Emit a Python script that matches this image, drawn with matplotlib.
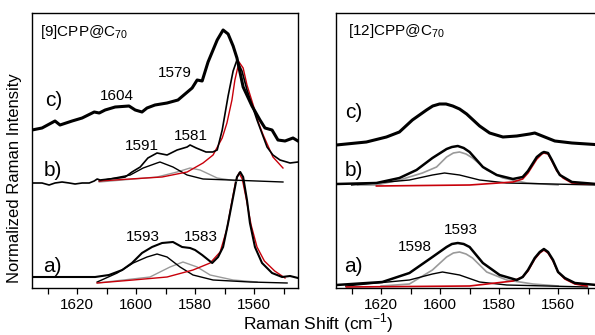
import matplotlib
matplotlib.use('Agg')
import matplotlib.pyplot as plt
from matplotlib.ticker import MultipleLocator

plt.rcParams['font.family'] = ['Liberation Sans', 'DejaVu Sans']
plt.rcParams['mathtext.fontset'] = 'custom'
plt.rcParams['mathtext.rm'] = 'Liberation Sans'

# ---- [9]CPP@C70 (left panel) ----
l_c_x = [1635.3, 1631.9, 1627.5, 1625.8, 1621.7, 1618.3, 1614.2, 1612.5, 1610.5, 1607.1, 1602.4, 1600.3,
         1598.0, 1596.3, 1593.6, 1589.5, 1585.8, 1581.0, 1579.3, 1577.6, 1575.6, 1572.5, 1570.5, 1568.8,
         1567.1, 1565.8, 1563.7, 1560.7, 1558.0, 1556.3, 1553.9, 1551.9, 1549.5, 1546.8, 1545.1]
l_c_y = [0.0, 0.2, 0.9, 0.5, 0.9, 1.2, 1.8, 1.7, 2.0, 2.3, 2.4, 2.0,
         1.8, 2.2, 2.5, 2.7, 3.0, 4.2, 5.0, 4.9, 6.8, 9.0, 10.0, 9.6,
         8.4, 7.2, 4.3, 2.4, 1.0, 0.2, 0.0, -1.0, -1.1, -0.8, -1.1]

l_b_x = [1635.3, 1631.9, 1629.5, 1627.5, 1625.1, 1622.7, 1620.7, 1618.3, 1615.9, 1614.2, 1613.2, 1612.2,
         1609.2, 1605.8, 1603.7, 1601.4, 1598.6, 1596.0, 1592.9, 1589.5, 1586.1, 1582.7, 1581.7, 1579.6,
         1576.3, 1574.0, 1572.5, 1570.8, 1568.8, 1567.1, 1565.8, 1564.1, 1562.4, 1560.7, 1559.0, 1555.6,
         1553.6, 1551.2, 1547.8, 1545.1]
l_b_y = [0.0, 0.0, -0.2, 0.0, 0.1, 0.0, -0.1, 0.0, 0.0, 0.2, 0.4, 0.3,
         0.4, 0.5, 0.6, 1.1, 1.6, 2.5, 3.0, 2.8, 3.3, 3.6, 3.8, 3.5,
         3.1, 3.1, 3.3, 5.3, 8.7, 11.2, 12.3, 11.2, 9.3, 7.8, 6.3, 3.6,
         2.8, 2.3, 2.0, 2.1]
l_b_red_x = [1612.5, 1602.0, 1591.2, 1582.7, 1577.3, 1573.9, 1570.8, 1569.2, 1567.5, 1566.5, 1565.1,
             1563.7, 1562.4, 1560.3, 1558.6, 1556.9, 1553.6, 1550.2]
l_b_red_y = [0.2, 0.4, 0.6, 1.1, 2.0, 2.8, 4.5, 6.0, 8.3, 10.3, 12.1,
             11.5, 9.8, 7.8, 6.1, 4.8, 2.6, 1.5]
l_b_fit1_x = [1612.5, 1602.0, 1597.6, 1592.9, 1591.9, 1587.5, 1582.7, 1577.3, 1568.1, 1550.2]
l_b_fit1_y = [0.2, 0.8, 1.5, 2.0, 2.1, 1.6, 0.8, 0.4, 0.3, 0.1]
l_b_fit2_x = [1612.5, 1592.9, 1586.1, 1581.7, 1578.3, 1572.5, 1565.8]
l_b_fit2_y = [0.1, 0.6, 1.1, 1.5, 1.3, 0.5, 0.2]

l_a_x = [1635.3, 1624.0, 1613.9, 1609.2, 1604.7, 1601.4, 1598.0, 1594.6, 1591.2, 1587.5, 1584.4, 1581.7,
         1580.0, 1577.6, 1574.2, 1572.2, 1570.5, 1568.8, 1567.1, 1565.8, 1564.7, 1563.7, 1562.4, 1561.4,
         1559.7, 1557.3, 1553.9, 1550.5, 1547.8, 1545.1]
l_a_y = [0.0, 0.0, 0.0, 0.2, 0.7, 1.4, 2.4, 3.0, 3.4, 3.5, 3.0, 2.9,
         2.7, 2.2, 1.4, 2.0, 3.0, 5.4, 8.0, 10.0, 10.5, 10.0, 7.7, 5.4,
         3.0, 1.4, 0.4, 0.0, 0.1, -0.1]
l_a_red_x = [1613.2, 1601.0, 1589.5, 1580.7, 1574.9, 1571.5, 1569.2, 1567.5, 1566.2, 1565.1, 1564.0,
             1562.7, 1561.0, 1559.0, 1556.5, 1553.0, 1549.5]
l_a_red_y = [-0.6, -0.3, 0.0, 0.7, 1.4, 2.5, 4.8, 7.6, 9.6, 10.4, 9.8,
             7.9, 5.2, 3.0, 1.6, 0.6, -0.1]
l_a_fit1_x = [1613.2, 1606.4, 1601.0, 1596.3, 1592.9, 1589.5, 1585.1, 1580.7, 1573.9, 1561.4, 1548.8]
l_a_fit1_y = [-0.5, 0.4, 1.4, 2.0, 2.3, 2.0, 1.0, 0.2, -0.3, -0.5, -0.6]
l_a_fit2_x = [1613.2, 1595.3, 1588.5, 1584.1, 1579.3, 1574.9, 1567.1, 1559.0]
l_a_fit2_y = [-0.6, 0.0, 1.0, 1.5, 1.0, 0.2, -0.3, -0.5]

# ---- [12]CPP@C70 (right panel) ----
r_c_x = [1635.2, 1625.0, 1618.2, 1613.8, 1609.4, 1604.6, 1602.5, 1600.2, 1598.0, 1595.7, 1593.4, 1591.0,
         1586.6, 1583.2, 1578.7, 1574.0, 1569.6, 1567.9, 1564.5, 1561.1, 1555.3, 1545.0]
r_c_y = [0.0, 0.3, 0.8, 1.3, 2.5, 3.5, 3.9, 4.1, 4.1, 3.9, 3.6, 3.1,
         1.9, 1.2, 0.8, 0.9, 1.1, 1.2, 0.8, 0.4, 0.2, 0.0]

r_b_x = [1635.2, 1621.6, 1613.8, 1608.0, 1602.6, 1597.8, 1596.0, 1594.0, 1592.0, 1590.0, 1585.5, 1580.8,
         1575.3, 1572.0, 1570.2, 1567.2, 1565.5, 1564.8, 1563.4, 1562.1, 1560.4, 1559.4, 1555.3, 1547.0]
r_b_y = [0.0, 0.1, 0.6, 1.4, 2.6, 3.5, 3.7, 3.8, 3.6, 3.2, 1.7, 0.9,
         0.5, 0.7, 1.3, 2.7, 3.1, 3.2, 3.1, 2.4, 1.4, 0.9, 0.2, 0.0]
r_b_red_x = [1621.6, 1590.0, 1575.3, 1572.0, 1570.2, 1567.2, 1565.5, 1564.8, 1563.4, 1562.1, 1560.4,
             1558.3, 1555.3, 1547.0]
r_b_red_y = [-0.2, -0.1, 0.2, 0.5, 1.1, 2.5, 3.0, 3.1, 3.0, 2.3, 1.3,
             0.6, 0.1, 0.0]
r_b_fit1_x = [1630.0, 1621.6, 1610.4, 1602.6, 1598.5, 1593.4, 1586.6, 1577.4, 1547.0]
r_b_fit1_y = [-0.1, 0.1, 0.4, 0.9, 1.1, 0.9, 0.4, 0.1, -0.1]
r_b_fit2_x = [1628.0, 1621.6, 1613.8, 1606.0, 1601.2, 1597.8, 1595.5, 1593.4, 1591.2, 1589.0, 1584.2,
              1578.7, 1570.6, 1560.0]
r_b_fit2_y = [-0.1, -0.1, 0.4, 1.1, 1.7, 2.7, 3.1, 3.2, 3.0, 2.6, 1.4,
              0.6, 0.1, -0.1]

r_a_x = [1635.2, 1619.6, 1610.4, 1602.6, 1597.8, 1596.0, 1594.0, 1592.0, 1590.0, 1585.5, 1579.8, 1574.0,
         1572.0, 1570.2, 1567.9, 1566.2, 1564.8, 1563.4, 1561.7, 1560.0, 1557.7, 1554.3, 1547.0]
r_a_y = [0.0, 0.3, 1.2, 2.8, 3.8, 4.1, 4.2, 4.1, 3.8, 2.2, 1.0, 0.5,
         0.8, 1.5, 2.7, 3.3, 3.6, 3.3, 2.5, 1.3, 0.7, 0.2, 0.0]
r_a_red_x = [1631.8, 1590.0, 1575.3, 1572.0, 1570.2, 1567.9, 1566.2, 1564.8, 1563.4, 1561.7, 1560.0,
             1557.7, 1554.3, 1550.2]
r_a_red_y = [-0.2, -0.1, 0.4, 0.8, 1.4, 2.6, 3.2, 3.5, 3.2, 2.4, 1.3,
             0.6, 0.1, -0.1]
r_a_fit1_x = [1632.0, 1625.0, 1610.4, 1602.6, 1599.2, 1593.4, 1586.6, 1577.4, 1550.0]
r_a_fit1_y = [-0.1, 0.1, 0.5, 1.1, 1.3, 1.0, 0.3, 0.0, -0.2]
r_a_fit2_x = [1620.0, 1610.4, 1602.6, 1597.8, 1595.5, 1593.4, 1591.2, 1589.0, 1584.2, 1577.4, 1568.5, 1560.0]
r_a_fit2_y = [-0.1, 0.1, 1.5, 2.8, 3.2, 3.3, 3.1, 2.7, 1.3, 0.5, 0.1, -0.1]

# vertical offsets of the stacked traces a), b), c)
l_off = {'a': 1.1, 'b': 10.5, 'c': 15.8}
r_off = {'a': 0.3, 'b': 10.4, 'c': 14.3}

RED = '#c8000a'
GRAY = '#9a9a9a'


def shift(vals, off):
    return [v + off for v in vals]


def style_axis(ax):
    ax.set_xlim(1635.3, 1545.1)
    ax.set_ylim(0, 27.5)
    ax.xaxis.set_major_locator(MultipleLocator(20))
    ax.xaxis.set_minor_locator(MultipleLocator(10))
    ax.tick_params(axis='x', which='major', direction='out', length=4.5, width=0.9,
                   labelsize=11, pad=3)
    ax.tick_params(axis='x', which='minor', direction='out', length=4, width=0.9)
    ax.set_yticks([])
    for sp in ax.spines.values():
        sp.set_linewidth(1.0)


fig = plt.figure(figsize=(5.95, 3.35), dpi=100)
ax1 = fig.add_axes([32 / 595, 1 - 288 / 335, 266 / 595, 275 / 335])
ax2 = fig.add_axes([336 / 595, 1 - 288 / 335, 266 / 595, 275 / 335])

# left panel
ax1.plot(l_a_fit2_x, shift(l_a_fit2_y, l_off['a']), color=GRAY, lw=1.0)
ax1.plot(l_a_fit1_x, shift(l_a_fit1_y, l_off['a']), color='k', lw=1.0)
ax1.plot(l_a_red_x, shift(l_a_red_y, l_off['a']), color=RED, lw=1.0)
ax1.plot(l_a_x, shift(l_a_y, l_off['a']), color='k', lw=1.5)
ax1.plot(l_b_fit2_x, shift(l_b_fit2_y, l_off['b']), color=GRAY, lw=1.0)
ax1.plot(l_b_fit1_x, shift(l_b_fit1_y, l_off['b']), color='k', lw=1.0)
ax1.plot(l_b_red_x, shift(l_b_red_y, l_off['b']), color=RED, lw=1.0)
ax1.plot(l_b_x, shift(l_b_y, l_off['b']), color='k', lw=1.2)
ax1.plot(l_c_x, shift(l_c_y, l_off['c']), color='k', lw=2.2)

ax1.text(0.03, 0.93, r'[9]CPP@C$_{\mathregular{70}}$', transform=ax1.transAxes, fontsize=11,
         ha='left', va='center')
for lab, x, y in [('c)', 1631.0, 18.7), ('b)', 1631.2, 11.7), ('a)', 1631.5, 2.2)]:
    ax1.text(x, y, lab, fontsize=15, ha='left', va='center')
for lab, x, y in [('1604', 1606.4, 19.2), ('1579', 1586.8, 21.5), ('1591', 1598.1, 14.2),
                  ('1581', 1581.4, 15.2), ('1593', 1597.6, 5.1), ('1583', 1578.1, 5.1)]:
    ax1.text(x, y, lab, fontsize=11, ha='center', va='center')

# right panel
ax2.plot(r_a_fit2_x, shift(r_a_fit2_y, r_off['a']), color=GRAY, lw=1.2)
ax2.plot(r_a_fit1_x, shift(r_a_fit1_y, r_off['a']), color='k', lw=1.0)
ax2.plot(r_a_red_x, shift(r_a_red_y, r_off['a']), color=RED, lw=1.2)
ax2.plot(r_a_x, shift(r_a_y, r_off['a']), color='k', lw=1.8)
ax2.plot(r_b_fit2_x, shift(r_b_fit2_y, r_off['b']), color=GRAY, lw=1.2)
ax2.plot(r_b_fit1_x, shift(r_b_fit1_y, r_off['b']), color='k', lw=1.0)
ax2.plot(r_b_red_x, shift(r_b_red_y, r_off['b']), color=RED, lw=1.2)
ax2.plot(r_b_x, shift(r_b_y, r_off['b']), color='k', lw=1.8)
ax2.plot(r_c_x, shift(r_c_y, r_off['c']), color='k', lw=2.2)

ax2.text(0.045, 0.935, r'[12]CPP@C$_{\mathregular{70}}$', transform=ax2.transAxes, fontsize=11,
         ha='left', va='center')
for lab, x, y in [('c)', 1632.1, 17.6), ('b)', 1632.5, 11.8), ('a)', 1632.5, 2.1)]:
    ax2.text(x, y, lab, fontsize=15, ha='left', va='center')
for lab, x, y in [('1598', 1608.5, 4.1), ('1593', 1592.9, 5.8)]:
    ax2.text(x, y, lab, fontsize=11, ha='center', va='center')

style_axis(ax1)
style_axis(ax2)

fig.text(15 / 595, 1 - 178 / 335, 'Normalized Raman Intensity', rotation=90, fontsize=12,
         ha='center', va='center')
fig.text(318 / 595, 1 - 323 / 335, r'Raman Shift (cm$^{\mathregular{-1}}$)', fontsize=12.5,
         ha='center', va='center')

fig.savefig('out.png', dpi=100)
